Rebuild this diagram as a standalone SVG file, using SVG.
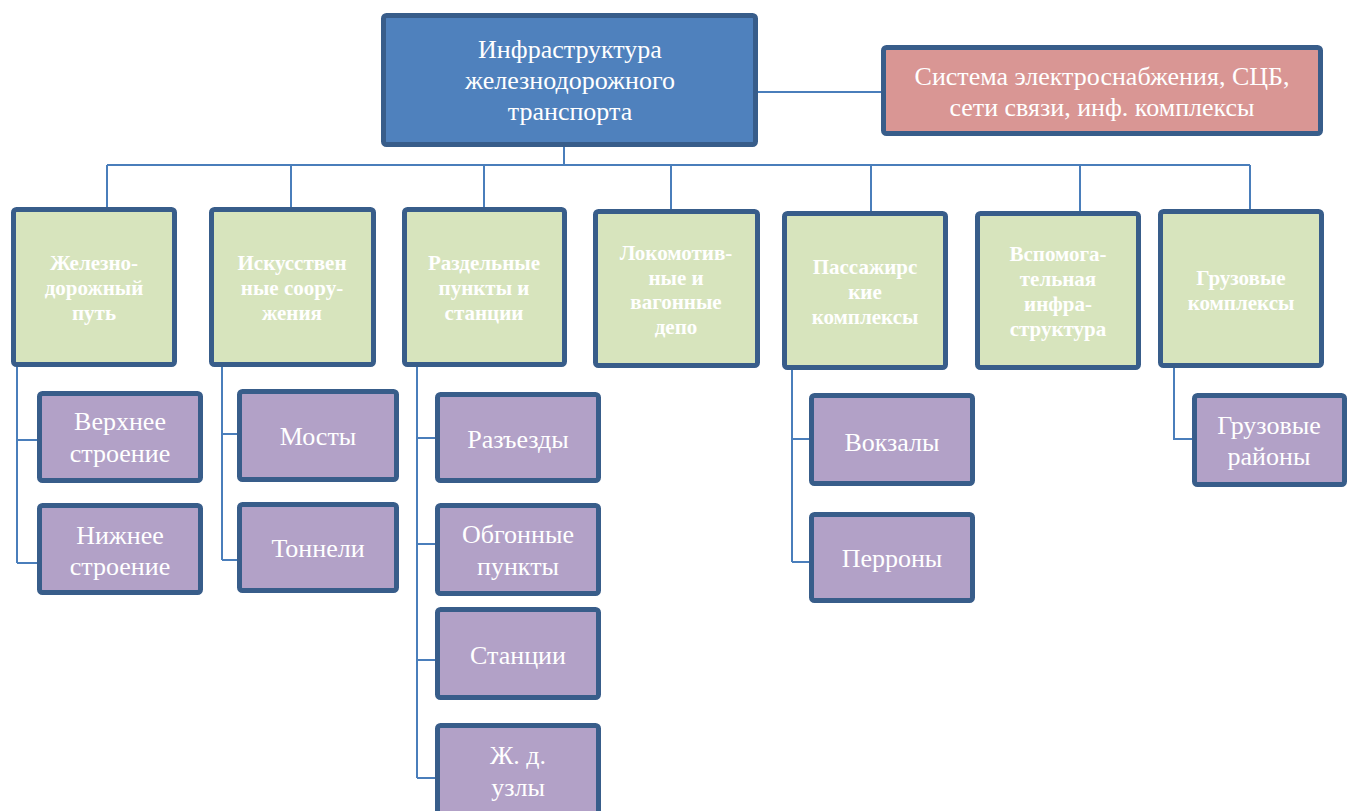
<svg xmlns="http://www.w3.org/2000/svg" width="1347" height="811" viewBox="0 0 1347 811">
<style>
.box{stroke:#385d8a;stroke-width:5;rx:3;ry:3}
.main{fill:#4f81bd}
.pink{fill:#d99694}
.green{fill:#d7e4bd}
.purple{fill:#b2a1c7}
.t{font-family:"Liberation Serif","Times New Roman",serif;font-size:26px;fill:#ffffff;text-anchor:middle}
.g{font-family:"Liberation Serif","Times New Roman",serif;font-size:21px;font-weight:bold;fill:#ffffff;text-anchor:middle}
.c{fill:none;stroke:#4a7ebb;stroke-width:2}
</style>
<rect width="1347" height="811" fill="#ffffff"/>
<g id="connectors" class="c">
<path d="M564 147V165M107 165H1250M107 165V207M291 165V207M484 165V207M671 165V209M871 165V211M1080 165V211M1250 165V209"/>
<path d="M758 92H881"/>
<path d="M17 367V563M17 440H37M17 563H37"/>
<path d="M222 367V560M222 434H237M222 560H237"/>
<path d="M417 367V778M417 438H435M417 544H435M417 660H435M417 778H435"/>
<path d="M792 370V562M792 439H809M792 562H809"/>
<path d="M1174 368V439H1192"/>
</g>
<g id="root"><rect class="box main" x="383.5" y="15.5" width="372" height="129"/>
<text class="t"><tspan x="570" y="58">Инфраструктура</tspan><tspan x="570" y="89">железнодорожного</tspan><tspan x="570" y="120">транспорта</tspan></text></g>
<g id="systems"><rect class="box pink" x="883.5" y="47.5" width="437" height="86"/>
<text class="t"><tspan x="1102" y="85">Система электроснабжения, СЦБ,</tspan><tspan x="1102" y="116">сети связи, инф. комплексы</tspan></text></g>
<g id="track"><rect class="box green" x="13.5" y="209.5" width="161" height="155"/>
<text class="g"><tspan x="94" y="270">Железно-</tspan><tspan x="94" y="295">дорожный</tspan><tspan x="94" y="320">путь</tspan></text></g>
<g id="structures"><rect class="box green" x="211.5" y="209.5" width="162" height="155"/>
<text class="g"><tspan x="292" y="270">Искусствен</tspan><tspan x="292" y="295">ные соору-</tspan><tspan x="292" y="320">жения</tspan></text></g>
<g id="points"><rect class="box green" x="404.5" y="209.5" width="160" height="155"/>
<text class="g"><tspan x="484" y="270">Раздельные</tspan><tspan x="484" y="295">пункты и</tspan><tspan x="484" y="320">станции</tspan></text></g>
<g id="depots"><rect class="box green" x="595.5" y="211.5" width="162" height="154"/>
<text class="g"><tspan x="676" y="260">Локомотив-</tspan><tspan x="676" y="285">ные и</tspan><tspan x="676" y="309">вагонные</tspan><tspan x="676" y="334">депо</tspan></text></g>
<g id="passenger"><rect class="box green" x="784.5" y="213.5" width="161" height="154"/>
<text class="g"><tspan x="865" y="274">Пассажирс</tspan><tspan x="865" y="299">кие</tspan><tspan x="865" y="324">комплексы</tspan></text></g>
<g id="auxiliary"><rect class="box green" x="977.5" y="213.5" width="161" height="154"/>
<text class="g"><tspan x="1058" y="261">Вспомога-</tspan><tspan x="1058" y="286">тельная</tspan><tspan x="1058" y="311">инфра-</tspan><tspan x="1058" y="336">структура</tspan></text></g>
<g id="freight"><rect class="box green" x="1160.5" y="211.5" width="161" height="154"/>
<text class="g"><tspan x="1241" y="285">Грузовые</tspan><tspan x="1241" y="310">комплексы</tspan></text></g>
<g id="upper"><rect class="box purple" x="39.5" y="393.5" width="161" height="87"/>
<text class="t"><tspan x="120" y="430">Верхнее</tspan><tspan x="120" y="462">строение</tspan></text></g>
<g id="lower"><rect class="box purple" x="39.5" y="505.5" width="161" height="87"/>
<text class="t"><tspan x="120" y="544">Нижнее</tspan><tspan x="120" y="575">строение</tspan></text></g>
<g id="bridges"><rect class="box purple" x="239.5" y="391.5" width="157" height="88"/>
<text class="t" x="318" y="445">Мосты</text></g>
<g id="tunnels"><rect class="box purple" x="239.5" y="504.5" width="157" height="86"/>
<text class="t" x="318" y="557">Тоннели</text></g>
<g id="sidings"><rect class="box purple" x="437.5" y="394.5" width="161" height="86"/>
<text class="t" x="518" y="448">Разъезды</text></g>
<g id="passing"><rect class="box purple" x="437.5" y="505.5" width="161" height="88"/>
<text class="t"><tspan x="518" y="543">Обгонные</tspan><tspan x="518" y="575">пункты</tspan></text></g>
<g id="stations"><rect class="box purple" x="437.5" y="609.5" width="161" height="88"/>
<text class="t" x="518" y="664">Станции</text></g>
<g id="junctions"><rect class="box purple" x="437.5" y="725.5" width="161" height="95"/>
<text class="t"><tspan x="518" y="764">Ж. д.</tspan><tspan x="518" y="796">узлы</tspan></text></g>
<g id="terminals"><rect class="box purple" x="811.5" y="395.5" width="161" height="88"/>
<text class="t" x="892" y="451">Вокзалы</text></g>
<g id="platforms"><rect class="box purple" x="811.5" y="514.5" width="161" height="86"/>
<text class="t" x="892" y="567">Перроны</text></g>
<g id="freightareas"><rect class="box purple" x="1194.5" y="395.5" width="150" height="89"/>
<text class="t"><tspan x="1269" y="434">Грузовые</tspan><tspan x="1269" y="465">районы</tspan></text></g>
</svg>
